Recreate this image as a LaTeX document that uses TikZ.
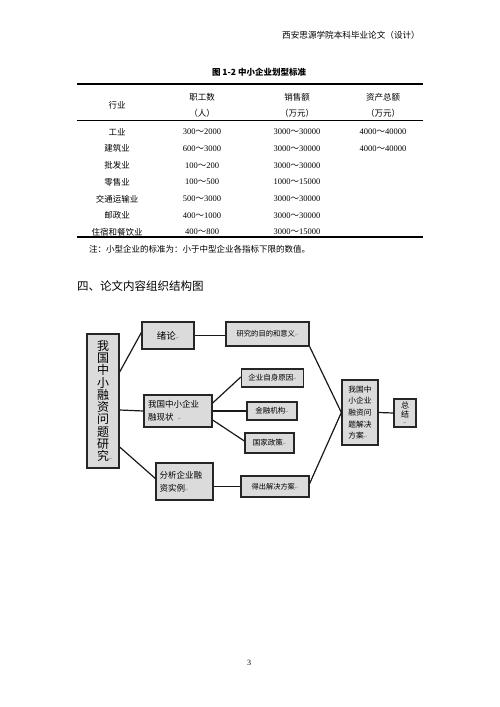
\documentclass[tikz,border=0pt]{standalone}
\usepackage{fontspec}
\setmainfont{Liberation Serif}
\newfontfamily\cjk{Noto Sans CJK SC}
\newfontfamily\symf{DejaVu Sans}
\usetikzlibrary{calc}

% range like 300~2000 with a full width tilde
\newcommand{\rg}[2]{#1{\cjk ～}#2}
% the small return marks left in the boxes
\newcommand{\ret}{{\symf\fontsize{4}{4}\selectfont\color{gray}↵}}

\tikzset{
  box/.style={draw=black!85, line width=1.3pt, fill=gray!28, inner sep=0pt,
    font=\cjk\fontsize{7.5}{11}\selectfont},
  link/.style={line width=1.2pt, black!90},
  cell/.style={inner sep=0pt, font=\fontsize{8.5}{10}\selectfont},
  rule/.style={line width=1.2pt}
}

\begin{document}
\begin{tikzpicture}[x=1pt, y=-1pt]
    \useasboundingbox (0,0) rectangle (500,707);

    % page head
    \node[anchor=east, font=\cjk\fontsize{8.6}{10}\selectfont, inner sep=0pt] (head) at (420,35) {西安思源学院本科毕业论文（设计）};

    % table 1-2
    \node[font=\cjk\bfseries\fontsize{8.5}{10}\selectfont, inner sep=0pt] (cap) at (259,72) {图 1-2 中小企业划型标准};
    \draw[rule] (77,84) -- (423,84);
    \draw[line width=0.8pt] (77,120) -- (423,120);
    \draw[rule] (77,237) -- (423,237);

    \node[cell, font=\cjk\fontsize{8.5}{10}\selectfont] (hind) at (117,105) {行业};
    \node[cell, font=\cjk\fontsize{8.5}{10}\selectfont] (hemp) at (202,97) {职工数};
    \node[cell, font=\cjk\fontsize{8.5}{10}\selectfont] (hemu) at (202,113) {（人）};
    \node[cell, font=\cjk\fontsize{8.5}{10}\selectfont] (hsal) at (297,97) {销售额};
    \node[cell, font=\cjk\fontsize{8.5}{10}\selectfont] (hsau) at (297,113) {（万元）};
    \node[cell, font=\cjk\fontsize{8.5}{10}\selectfont] (hass) at (383,97) {资产总额};
    \node[cell, font=\cjk\fontsize{8.5}{10}\selectfont] (hasu) at (383,113) {（万元）};

    \foreach \ind/\ea/\eb/\sa/\sb [count=\i] in {工业/300/2000/3000/30000, 建筑业/600/3000/3000/30000,
        批发业/100/200/3000/30000, 零售业/100/500/1000/15000, 交通运输业/500/3000/3000/30000,
        邮政业/400/1000/3000/30000, 住宿和餐饮业/400/800/3000/15000} {
      \node[cell, font=\cjk\fontsize{8.5}{10}\selectfont] (ind\i) at (117,132+16.7*\i-16.7) {\ind};
      \node[cell] (emp\i) at (202,132+16.7*\i-16.7) {\rg{\ea}{\eb}};
      \node[cell] (sal\i) at (297,132+16.7*\i-16.7) {\rg{\sa}{\sb}};
    }
    \node[cell] (ass1) at (383,132) {\rg{4000}{40000}};
    \node[cell] (ass2) at (383,148.7) {\rg{4000}{40000}};

    \node[anchor=west, font=\cjk\fontsize{8.5}{10}\selectfont, inner sep=0pt] (note) at (89,249) {注：小型企业的标准为：小于中型企业各指标下限的数值。};

    % section title
    \node[anchor=west, font=\cjk\fontsize{11.5}{13}\selectfont, inner sep=0pt] (sec) at (77,286) {四、论文内容组织结构图};

    % structure of the thesis
    \node[box, minimum width=32pt, minimum height=134pt, align=center,
      font=\cjk\fontsize{12}{12.3}\selectfont] (main) at (103,401)
      {我\\国\\中\\小\\融\\资\\问\\题\\研\\究\rlap{\ret}};
    \node[box, minimum width=52pt, minimum height=27pt, font=\cjk\fontsize{9.5}{11}\selectfont] (xulun) at (168,335.5) {绪论\ret};
    \node[box, minimum width=83pt, minimum height=24pt, font=\cjk\fontsize{7.3}{11}\selectfont] (mudi) at (267.5,334) {研究的目的和意义\ret};
    \node[box, minimum width=68pt, minimum height=32pt, text width=60pt, align=left,
      font=\cjk\fontsize{8.5}{13}\selectfont] (xianzhuang) at (178,411) {我国中小企业\\融现状\enspace\ret};
    \node[box, minimum width=62pt, minimum height=18pt] (ziyuan) at (272.5,378) {企业自身原因\ret};
    \node[box, minimum width=50pt, minimum height=18pt] (jinrong) at (272,411) {金融机构\ret};
    \node[box, minimum width=49pt, minimum height=20pt] (zhengce) at (269.5,443) {国家政策\ret};
    \node[box, minimum width=57pt, minimum height=37pt, text width=50pt, align=left,
      font=\cjk\fontsize{8.5}{13}\selectfont] (fenxi) at (184.5,481.5) {分析企业融\\资实例\ret};
    \node[box, minimum width=68pt, minimum height=21pt, font=\cjk\fontsize{7.2}{11}\selectfont] (dechu) at (275,486.5) {得出解决方案\ret};
    \node[box, minimum width=36pt, minimum height=65pt, align=left,
      font=\cjk\fontsize{7.7}{11.7}\selectfont] (fangan) at (360,412.5) {我国中\\小企业\\融资问\\题解决\\方案\ret};
    \node[box, minimum width=22pt, minimum height=28pt, align=center,
      font=\cjk\fontsize{8}{9}\selectfont] (zongjie) at (405,413) {总\\结\\[-2pt]\ret};

    \draw[link] ([yshift=29pt]main.east) -- ([yshift=3pt]xulun.west);
    \draw[link] ([yshift=-9pt]main.east) -- (xianzhuang.west);
    \draw[link] ([yshift=-46pt]main.east) -- ([yshift=3pt]fenxi.west);
    \draw[link] (xulun.east) -- (xulun.east -| mudi.west);
    \draw[link] ([yshift=8pt]xianzhuang.east) -- ([yshift=1pt]ziyuan.west);
    \draw[link] (xianzhuang.east) -- (jinrong.west);
    \draw[link] ([yshift=-9pt]xianzhuang.east) -- ([yshift=2pt]zhengce.west);
    \draw[link] (dechu.west -| fenxi.east) -- (dechu.west);
    \draw[link] (mudi.south east) -- (fangan.west);
    \draw[link] ([yshift=3pt]dechu.east) -- (fangan.west);
    \draw[link] (fangan.east) -- (zongjie.west);

    % page number
    \node[font=\fontsize{8}{10}\selectfont, inner sep=0pt] (page) at (249,663) {3};
\end{tikzpicture}
\end{document}
